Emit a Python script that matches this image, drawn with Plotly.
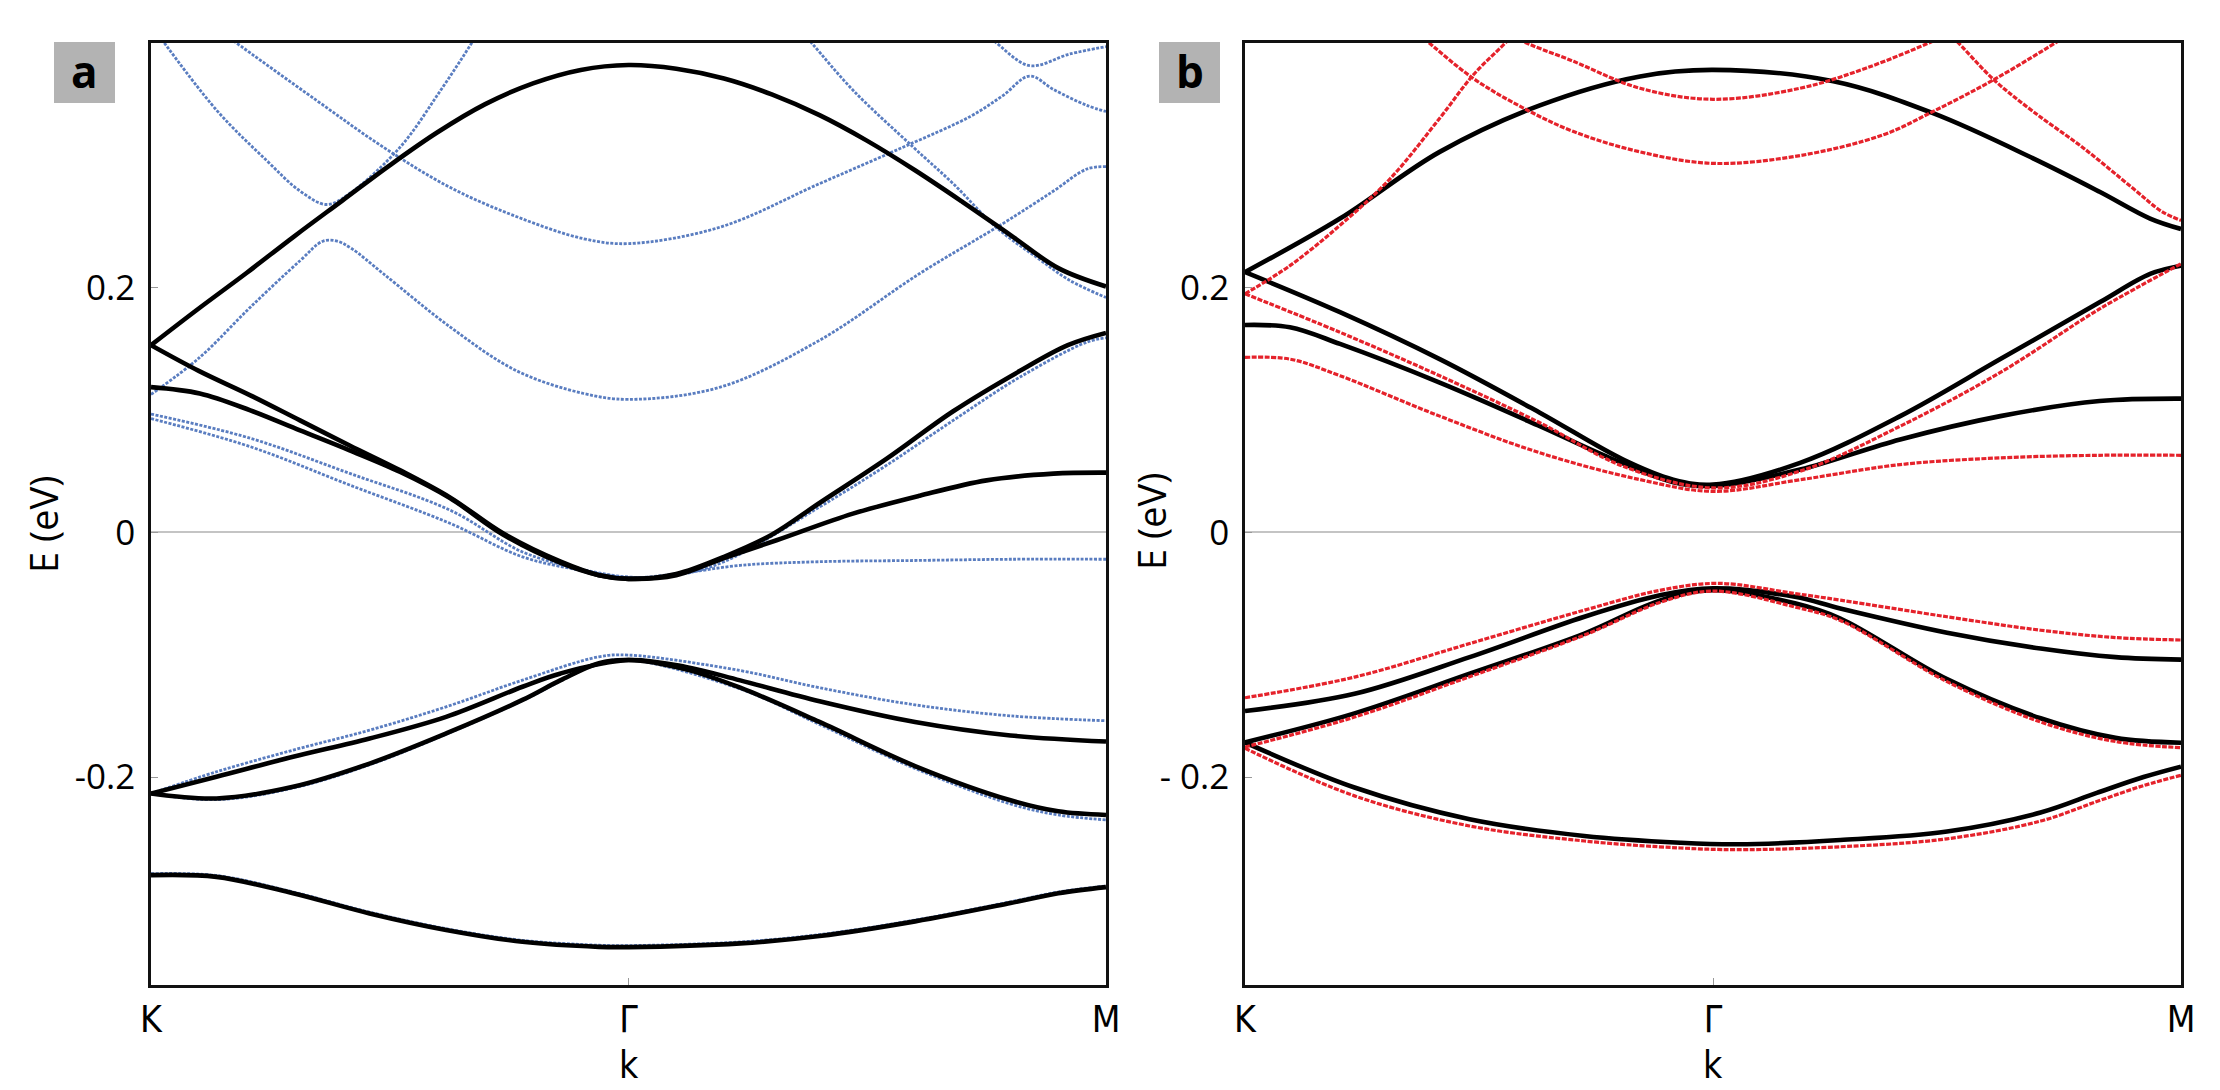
import plotly.graph_objects as go

W, H = 2220, 1090

# ---------------- Panel a : k runs K(0) -> Gamma(0.5) -> M(1) ----------------
a_blk1_k = [0, 0.05, 0.1, 0.15, 0.2, 0.25, 0.3, 0.35, 0.4, 0.45, 0.5, 0.55, 0.6, 0.65, 0.7, 0.75, 0.8, 0.85, 0.9, 0.95, 1.0]
a_blk1_e = [0.153, 0.183, 0.212, 0.242, 0.271, 0.300, 0.327, 0.350, 0.367, 0.378, 0.382, 0.379, 0.371, 0.358, 0.341, 0.320, 0.296, 0.270, 0.243, 0.216, 0.201]

a_blk2_k = [0, 0.05, 0.104, 0.156, 0.208, 0.261, 0.313, 0.369, 0.429, 0.469, 0.5, 0.55, 0.6, 0.65, 0.7, 0.77, 0.84, 0.91, 0.96, 1.0]
a_blk2_e = [0.153, 0.132, 0.112, 0.0915, 0.071, 0.0507, 0.0286, -0.001, -0.024, -0.035, -0.038, -0.034, -0.020, -0.002, 0.024, 0.060, 0.099, 0.132, 0.153, 0.163]

a_blk3_k = [0, 0.051, 0.104, 0.156, 0.208, 0.261, 0.313, 0.369, 0.429, 0.469, 0.5, 0.55, 0.6, 0.655, 0.735, 0.805, 0.875, 0.945, 1.0]
a_blk3_e = [0.1187, 0.1135, 0.0997, 0.0833, 0.067, 0.0493, 0.028, -0.002, -0.025, -0.035, -0.038, -0.035, -0.021, -0.0065, 0.0153, 0.030, 0.0425, 0.048, 0.0488]

a_blk4_k = [0, 0.0686, 0.1488, 0.2289, 0.309, 0.389, 0.429, 0.5, 0.56, 0.617, 0.7, 0.8, 0.9, 1.0]
a_blk4_e = [-0.2135, -0.1998, -0.1835, -0.1685, -0.1508, -0.1262, -0.1153, -0.1044, -0.110, -0.121, -0.138, -0.155, -0.166, -0.171]

a_blk5_k = [0, 0.0686, 0.1488, 0.2289, 0.309, 0.389, 0.429, 0.469, 0.5, 0.56, 0.617, 0.7, 0.8, 0.9, 0.95, 1.0]
a_blk5_e = [-0.2135, -0.2175, -0.208, -0.189, -0.1644, -0.137, -0.1208, -0.107, -0.1044, -0.112, -0.127, -0.155, -0.191, -0.219, -0.228, -0.231]

a_blk6_k = [0, 0.0686, 0.1488, 0.2289, 0.309, 0.389, 0.469, 0.5, 0.617, 0.7, 0.8, 0.9, 0.95, 1.0]
a_blk6_e = [-0.2802, -0.2816, -0.295, -0.3115, -0.325, -0.3347, -0.3388, -0.339, -0.336, -0.330, -0.318, -0.303, -0.295, -0.290]

a_blu1_k = [0, 0.104, 0.208, 0.313, 0.389, 0.45, 0.5, 0.55, 0.6, 0.7, 0.77, 0.84, 0.91, 0.98, 1.0]
a_blu1_e = [0.0967, 0.0769, 0.0482, 0.0182, -0.016, -0.030, -0.0365, -0.035, -0.024, 0.0207, 0.0547, 0.0915, 0.127, 0.1555, 0.159]

a_blu2_k = [0, 0.104, 0.208, 0.313, 0.389, 0.45, 0.5, 0.55, 0.617, 0.7, 0.8, 0.9, 1.0]
a_blu2_e = [0.093, 0.070, 0.0387, 0.0074, -0.020, -0.031, -0.037, -0.034, -0.027, -0.024, -0.023, -0.022, -0.022]

a_blu3_k = [0, 0.051, 0.104, 0.156, 0.18, 0.195, 0.21, 0.243, 0.313, 0.383, 0.453, 0.5, 0.596, 0.7, 0.805, 0.892, 0.945, 0.98, 1.0]
a_blu3_e = [0.1127, 0.143, 0.184, 0.222, 0.238, 0.238, 0.232, 0.2116, 0.168, 0.132, 0.1135, 0.1087, 0.1187, 0.157, 0.2116, 0.2524, 0.279, 0.297, 0.299]

a_blu4_k = [0, 0.0688, 0.121, 0.156, 0.184, 0.208, 0.261, 0.303, 0.3375, 0.36]
a_blu4_e = [0.415, 0.345, 0.304, 0.279, 0.268, 0.277, 0.315, 0.361, 0.402, 0.43]

a_blu5_k = [0.06, 0.086, 0.1735, 0.243, 0.313, 0.383, 0.453, 0.5, 0.596, 0.7, 0.788, 0.858, 0.892, 0.92, 0.945, 0.98, 1.0]
a_blu5_e = [0.417, 0.402, 0.353, 0.315, 0.282, 0.258, 0.240, 0.236, 0.2495, 0.285, 0.315, 0.340, 0.357, 0.373, 0.362, 0.349, 0.344]

a_blu6_k = [0.86, 0.882, 0.92, 0.962, 1.0]
a_blu6_e = [0.414, 0.402, 0.3815, 0.391, 0.397]

a_blu7_k = [0.675, 0.6918, 0.7356, 0.798, 0.84, 0.8855, 0.927, 0.962, 1.0]
a_blu7_e = [0.415, 0.400, 0.361, 0.315, 0.285, 0.249, 0.225, 0.206, 0.192]

a_blu8_k = [0, 0.0686, 0.1488, 0.2289, 0.309, 0.389, 0.469, 0.5, 0.617, 0.7, 0.8, 0.9, 1.0]
a_blu8_e = [-0.2135, -0.1957, -0.178, -0.1617, -0.1426, -0.1208, -0.1017, -0.1003, -0.113, -0.127, -0.141, -0.150, -0.154]

a_blu9_k = [0, 0.0686, 0.1488, 0.2289, 0.309, 0.389, 0.469, 0.5, 0.617, 0.7, 0.8, 0.9, 0.95, 1.0]
a_blu9_e = [-0.2135, -0.2185, -0.209, -0.190, -0.1650, -0.1375, -0.107, -0.1040, -0.128, -0.157, -0.193, -0.222, -0.231, -0.235]

a_blu10_k = [0, 0.0686, 0.1488, 0.2289, 0.309, 0.389, 0.469, 0.5, 0.617, 0.7, 0.8, 0.9, 0.95, 1.0]
a_blu10_e = [-0.2790, -0.2805, -0.2940, -0.3105, -0.3240, -0.3335, -0.3375, -0.3378, -0.3348, -0.3288, -0.3170, -0.3020, -0.2940, -0.2890]

# ---------------- Panel b ----------------
b_blk1_k = [0, 0.1015, 0.208, 0.315, 0.422, 0.5, 0.6286, 0.735, 0.842, 0.913, 0.967, 1.0]
b_blk1_e = [0.2127, 0.2565, 0.311, 0.349, 0.3727, 0.378, 0.3687, 0.3426, 0.3057, 0.2784, 0.2565, 0.248]

b_blk2_k = [0, 0.1015, 0.208, 0.315, 0.404, 0.4576, 0.5, 0.593, 0.70, 0.807, 0.913, 0.967, 1.0]
b_blk2_e = [0.2127, 0.180, 0.1416, 0.0978, 0.0595, 0.0431, 0.039, 0.0568, 0.095, 0.1416, 0.188, 0.2113, 0.218]

b_blk3_k = [0, 0.048, 0.1015, 0.208, 0.315, 0.386, 0.4576, 0.5, 0.593, 0.70, 0.807, 0.913, 1.0]
b_blk3_e = [0.1695, 0.1676, 0.154, 0.1224, 0.0868, 0.0622, 0.041, 0.038, 0.0513, 0.0759, 0.095, 0.1073, 0.1093]

b_blk4_k = [0, 0.117, 0.240, 0.3626, 0.4445, 0.50, 0.5875, 0.636, 0.75, 0.85, 0.93, 1.0]
b_blk4_e = [-0.146, -0.132, -0.102, -0.069, -0.0513, -0.0458, -0.0527, -0.0622, -0.082, -0.095, -0.102, -0.104]

b_blk5_k = [0, 0.117, 0.240, 0.3626, 0.4445, 0.50, 0.5875, 0.636, 0.75, 0.85, 0.93, 1.0]
b_blk5_e = [-0.1717, -0.148, -0.1156, -0.0827, -0.0554, -0.0472, -0.058, -0.0704, -0.120, -0.152, -0.168, -0.172]

b_blk6_k = [0, 0.117, 0.240, 0.3626, 0.465, 0.526, 0.636, 0.75, 0.85, 0.91, 0.96, 1.0]
b_blk6_e = [-0.1717, -0.2086, -0.2345, -0.2482, -0.2537, -0.255, -0.2515, -0.2445, -0.229, -0.213, -0.2, -0.1915]

b_red1_k = [0, 0.048, 0.1015, 0.155, 0.208, 0.244, 0.283, 0.30]
b_red1_e = [0.195, 0.218, 0.251, 0.289, 0.3385, 0.374, 0.404, 0.42]

b_red2_k = [0, 0.1015, 0.208, 0.315, 0.404, 0.5, 0.593, 0.70, 0.807, 0.913, 1.0]
b_red2_e = [0.195, 0.1635, 0.128, 0.0896, 0.054, 0.0363, 0.050, 0.0868, 0.1307, 0.1826, 0.2195]

b_red3_k = [0, 0.048, 0.1015, 0.208, 0.315, 0.422, 0.5, 0.593, 0.70, 0.807, 0.913, 1.0]
b_red3_e = [0.143, 0.1416, 0.128, 0.095, 0.065, 0.0431, 0.0335, 0.043, 0.0554, 0.0609, 0.063, 0.063]

b_red4_k = [0.175, 0.1905, 0.244, 0.297, 0.351, 0.422, 0.5, 0.593, 0.682, 0.735, 0.80, 0.874, 0.89]
b_red4_e = [0.4135, 0.404, 0.371, 0.347, 0.3276, 0.311, 0.3016, 0.308, 0.325, 0.344, 0.370, 0.404, 0.412]

b_red5_k = [0.27, 0.290, 0.351, 0.422, 0.5, 0.593, 0.664, 0.735, 0.75]
b_red5_e = [0.415, 0.404, 0.385, 0.363, 0.354, 0.363, 0.3796, 0.4015, 0.407]

b_red6_k = [0.74, 0.757, 0.80, 0.842, 0.896, 0.949, 0.98, 1.0]
b_red6_e = [0.415, 0.404, 0.370, 0.344, 0.314, 0.281, 0.262, 0.255]

b_red7_k = [0, 0.117, 0.240, 0.3626, 0.4445, 0.506, 0.5875, 0.636, 0.75, 0.85, 0.93, 1.0]
b_red7_e = [-0.1352, -0.1183, -0.0909, -0.0636, -0.0472, -0.0417, -0.050, -0.0554, -0.069, -0.080, -0.086, -0.088]

b_red8_k = [0, 0.117, 0.240, 0.3626, 0.4445, 0.50, 0.5875, 0.636, 0.75, 0.85, 0.93, 1.0]
b_red8_e = [-0.1755, -0.151, -0.118, -0.084, -0.057, -0.048, -0.061, -0.072, -0.122, -0.155, -0.171, -0.176]

b_red9_k = [0, 0.117, 0.240, 0.3626, 0.465, 0.526, 0.636, 0.75, 0.85, 0.91, 0.96, 1.0]
b_red9_e = [-0.1765, -0.2154, -0.240, -0.2523, -0.258, -0.2594, -0.257, -0.2505, -0.236, -0.22, -0.207, -0.1986]

k_tickvals = [0, 0.5, 1]
k_ticktext = ["K", "Γ", "M"]
e_tickvals = [-0.2, 0, 0.2]
e_ticktext_a = ["-0.2", "0", "0.2"]
e_ticktext_b = ["- 0.2", "0", "0.2"]
panel_labels = ["a", "b"]
x_title = "k"
y_title = "E (eV)"

BLACK = dict(color="#000000", width=4.6)
BLUE = dict(color="#5a7dc0", width=2.8, dash="3px,1.5px")
RED = dict(color="#e5222b", width=3.2, dash="5px,1.5px")

fig = go.Figure()

def add(k, e, line, xa, ya):
    fig.add_trace(go.Scatter(x=k, y=e, mode="lines", line=dict(shape="spline", smoothing=1.0, **line),
                             xaxis=xa, yaxis=ya, showlegend=False, hoverinfo="skip"))

for k, e in [(a_blu1_k, a_blu1_e), (a_blu2_k, a_blu2_e), (a_blu3_k, a_blu3_e), (a_blu4_k, a_blu4_e),
             (a_blu5_k, a_blu5_e), (a_blu6_k, a_blu6_e), (a_blu7_k, a_blu7_e), (a_blu8_k, a_blu8_e),
             (a_blu9_k, a_blu9_e), (a_blu10_k, a_blu10_e)]:
    add(k, e, BLUE, "x", "y")
for k, e in [(a_blk1_k, a_blk1_e), (a_blk2_k, a_blk2_e), (a_blk3_k, a_blk3_e), (a_blk4_k, a_blk4_e),
             (a_blk5_k, a_blk5_e), (a_blk6_k, a_blk6_e)]:
    add(k, e, BLACK, "x", "y")
for k, e in [(b_blk1_k, b_blk1_e), (b_blk2_k, b_blk2_e), (b_blk3_k, b_blk3_e), (b_blk4_k, b_blk4_e),
             (b_blk5_k, b_blk5_e), (b_blk6_k, b_blk6_e)]:
    add(k, e, BLACK, "x2", "y2")
for k, e in [(b_red1_k, b_red1_e), (b_red2_k, b_red2_e), (b_red3_k, b_red3_e), (b_red4_k, b_red4_e),
             (b_red5_k, b_red5_e), (b_red6_k, b_red6_e), (b_red7_k, b_red7_e), (b_red8_k, b_red8_e),
             (b_red9_k, b_red9_e)]:
    add(k, e, RED, "x2", "y2")

TICKFONT = dict(family="Open Sans, sans-serif", size=35, color="#000")
KFONT = dict(family="Liberation Sans Narrow, DejaVu Sans Condensed, Arial Narrow, sans-serif", size=37, color="#000")
YD = [1 - 985 / H, 1 - 43 / H]

def xaxis(dom, anchor):
    return dict(domain=dom, range=[0, 1], tickvals=k_tickvals, ticktext=k_ticktext, tickfont=KFONT,
                ticks="inside", ticklen=7, tickcolor="#999", tickwidth=1, showgrid=False, zeroline=False,
                showline=True, mirror=True, linecolor="#111", linewidth=2.5, ticklabelstandoff=0,
                anchor=anchor, automargin=False)

def yaxis(ticktext, anchor):
    return dict(domain=YD, range=[-0.37, 0.4], tickvals=e_tickvals, ticktext=ticktext, tickfont=TICKFONT,
                ticks="inside", ticklen=7, tickcolor="#999", tickwidth=1, showgrid=False,
                zeroline=True, zerolinecolor="#c4c4c4", zerolinewidth=1.5,
                showline=True, mirror=True, linecolor="#111", linewidth=2.5, ticklabelstandoff=6,
                anchor=anchor, automargin=False)

fig.update_layout(
    width=W, height=H, margin=dict(l=0, r=0, t=0, b=0),
    paper_bgcolor="white", plot_bgcolor="white", showlegend=False,
    xaxis=xaxis([151 / W, 1106 / W], "y"), yaxis=yaxis(e_ticktext_a, "x"),
    xaxis2=xaxis([1245 / W, 2181 / W], "y2"), yaxis2=yaxis(e_ticktext_b, "x2"),
)

# panel letters in grey boxes
boxes = [(54, 115), (1159, 1220)]
for (x0, x1), lab in zip(boxes, panel_labels):
    fig.add_shape(type="rect", xref="paper", yref="paper", x0=x0 / W, x1=x1 / W, y0=1 - 103 / H, y1=1 - 42 / H,
                  fillcolor="#b3b3b3", line=dict(width=0), layer="below")
    fig.add_annotation(xref="paper", yref="paper", x=(x0 + x1) / 2 / W, y=1 - 71 / H, text="<b>%s</b>" % lab,
                       showarrow=False, font=dict(family="Open Sans, sans-serif", size=44, color="#000"),
                       xanchor="center", yanchor="middle")

# axis titles
for xc, yc in [(43, 525), (1151, 522)]:
    fig.add_annotation(xref="paper", yref="paper", x=xc / W, y=1 - yc / H, text=y_title, textangle=-90,
                       showarrow=False, font=dict(family="Open Sans, sans-serif", size=38, color="#000"),
                       xanchor="center", yanchor="middle")
for xc in [628.5, 1713]:
    fig.add_annotation(xref="paper", yref="paper", x=xc / W, y=1 - 1065 / H, text=x_title,
                       showarrow=False, font=KFONT, xanchor="center", yanchor="middle")

fig.write_html("out.html", config={"responsive": False, "displayModeBar": False})
